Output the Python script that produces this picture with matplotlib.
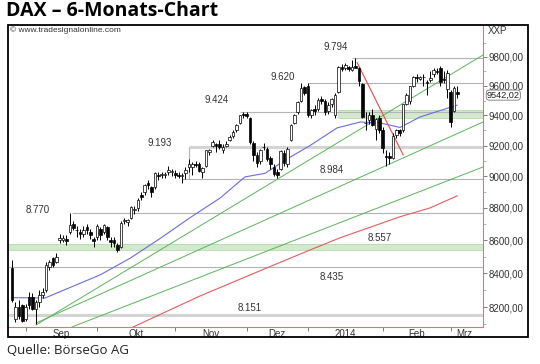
import matplotlib
matplotlib.use("Agg")
import matplotlib.pyplot as plt
from matplotlib.patches import Rectangle
from matplotlib.ticker import FixedLocator, NullFormatter
from matplotlib.transforms import blended_transform_factory

# DAX daily candles, 27.08.2013 - 05.03.2014 (index = trading day)
opens = [8430, 8130, 8200, 8210, 8130, 8260, 8260, 8190, 8230, 8270,
         8300, 8440, 8490, 8470, 8600, 8600, 8610, 8650, 8700, 8660,
         8650, 8640, 8680, 8650, 8610, 8620, 8670, 8650, 8680, 8600,
         8600, 8570, 8560, 8720, 8710, 8740, 8790, 8800, 8880, 8900,
         8960, 8930, 8930, 9010, 9010, 9010, 9030, 9030, 9020, 9010,
         9000, 9020, 9060, 9060, 9080, 9080, 9030, 9070, 9160, 9200,
         9210, 9210, 9170, 9200, 9240, 9260, 9300, 9350, 9410, 9410,
         9380, 9220, 9140, 9100, 9190, 9180, 9120, 9060, 9030, 9050,
         9150, 9080, 9240, 9350, 9420, 9500, 9590, 9598, 9400, 9440,
         9440, 9510, 9500, 9430, 9480, 9400, 9560, 9730, 9720, 9730,
         9710, 9740, 9720, 9610, 9350, 9370, 9400, 9310, 9380, 9300,
         9130, 9130, 9120, 9270, 9300, 9300, 9480, 9500, 9600, 9660,
         9650, 9660, 9630, 9640, 9680, 9700, 9720, 9650, 9580, 9560,
         9430, 9560]
highs = [8480, 8230, 8240, 8215, 8220, 8290, 8280, 8240, 8300, 8310,
         8470, 8480, 8500, 8520, 8640, 8630, 8630, 8770, 8720, 8690,
         8670, 8690, 8700, 8670, 8620, 8700, 8680, 8700, 8690, 8620,
         8620, 8580, 8720, 8740, 8730, 8810, 8810, 8860, 8900, 8950,
         8980, 8940, 9030, 9030, 9030, 9030, 9070, 9050, 9040, 9030,
         9020, 9060, 9110, 9090, 9100, 9090, 9060, 9170, 9180, 9240,
         9220, 9240, 9210, 9230, 9270, 9300, 9340, 9400, 9420, 9424,
         9390, 9230, 9160, 9180, 9220, 9190, 9130, 9080, 9050, 9170,
         9170, 9190, 9340, 9410, 9500, 9620, 9600, 9620, 9440, 9470,
         9520, 9530, 9510, 9490, 9520, 9550, 9740, 9750, 9760, 9740,
         9780, 9794, 9730, 9620, 9420, 9420, 9440, 9380, 9400, 9320,
         9170, 9160, 9280, 9310, 9310, 9480, 9550, 9600, 9670, 9680,
         9670, 9680, 9640, 9700, 9720, 9720, 9740, 9700, 9710, 9570,
         9600, 9600]
lows = [8230, 8110, 8130, 8110, 8120, 8190, 8180, 8100, 8200, 8250,
        8290, 8420, 8440, 8460, 8580, 8590, 8570, 8640, 8660, 8620,
        8610, 8620, 8640, 8610, 8560, 8600, 8600, 8640, 8600, 8560,
        8560, 8530, 8550, 8700, 8690, 8730, 8760, 8780, 8850, 8880,
        8920, 8870, 8920, 8980, 8990, 8990, 9010, 9000, 8990, 8990,
        8960, 8984, 9030, 9010, 9060, 9030, 8990, 9060, 9140, 9190,
        9160, 9180, 9150, 9190, 9230, 9250, 9290, 9340, 9380, 9380,
        9210, 9100, 9060, 9080, 9170, 9100, 9050, 9000, 8990, 9040,
        9070, 9060, 9230, 9340, 9410, 9490, 9540, 9390, 9380, 9400,
        9430, 9480, 9400, 9410, 9460, 9380, 9550, 9700, 9710, 9700,
        9700, 9720, 9600, 9380, 9300, 9340, 9330, 9240, 9280, 9150,
        9070, 9080, 9110, 9250, 9260, 9290, 9470, 9480, 9590, 9630,
        9640, 9600, 9540, 9630, 9660, 9680, 9600, 9620, 9520, 9320,
        9420, 9520]
closes = [8242, 8200, 8150, 8120, 8200, 8210, 8190, 8230, 8270, 8290,
          8447, 8469, 8450, 8500, 8612, 8613, 8597, 8694, 8675, 8665,
          8640, 8665, 8665, 8635, 8594, 8689, 8629, 8694, 8622, 8591,
          8580, 8540, 8705, 8725, 8724, 8806, 8790, 8850, 8870, 8947,
          8947, 8900, 9019, 9000, 9016, 9015, 9044, 9033, 9010, 9004,
          9008, 9040, 9078, 9078, 9076, 9037, 9054, 9168, 9168, 9225,
          9199, 9193, 9193, 9213, 9255, 9292, 9336, 9400, 9405, 9395,
          9225, 9140, 9085, 9172, 9191, 9114, 9077, 9017, 9006, 9163,
          9085, 9181, 9336, 9400, 9488, 9589, 9552, 9400, 9435, 9428,
          9506, 9497, 9421, 9473, 9510, 9540, 9733, 9718, 9742, 9715,
          9730, 9720, 9631, 9392, 9349, 9406, 9336, 9374, 9306, 9186,
          9128, 9116, 9265, 9301, 9285, 9479, 9540, 9596, 9663, 9657,
          9660, 9659, 9618, 9656, 9708, 9699, 9630, 9639, 9692, 9358,
          9589, 9542]

# moving averages (trading-day index, value)
blue_idx = [0, 9.7, 25.9, 34.7, 43.5, 52.4, 61.2, 68.5, 74.4, 80.9, 87.6, 95.6, 102.4, 108.2, 114.1, 120, 130.9]
blue_val = [8255, 8253, 8390, 8490, 8610, 8740, 8863, 8997, 9020, 9113, 9200, 9317, 9356, 9350, 9320, 9390, 9469]
red_idx = [34.1, 35.6, 55.3, 75.9, 87.6, 96.5, 114.1, 122.9, 130.9]
red_val = [8060, 8084, 8265, 8440, 8540, 8615, 8745, 8800, 8876]

# trend lines (start idx, start value, end idx, end value)
green_lines = [(7.06, 8096, 138.5, 9814), (7.06, 8107, 138.5, 9356), (17.6, 8084, 138.5, 9061)]
red_trend = (101.5, 9760, 115, 9140)

# marked levels: value, first index of the line
levels = [9794, 9620, 9424, 9193, 8984, 8770, 8435, 8151]
level_start = [100, 87, 67, 52, 50, 17.6, -2, -2]
level_text = ["9.794", "9.620", "9.424", "9.193", "8.984", "8.770", "8.435", "8.151"]
zones = [(8540, 8575, -2), (9385, 9435, 96)]
zone_text = "8.557"

month_starts = [4, 25, 48, 69, 87, 109, 129]
month_labels = ["Sep", "Okt", "Nov", "Dez", "2014", "Feb", "Mrz"]
y_ticks = [8200, 8400, 8600, 8800, 9000, 9200, 9400, 9600, 9800]
last_close = 9542.02

W, H = 540, 364
fig = plt.figure(figsize=(5.4, 3.64), dpi=100)
ax = fig.add_axes([8 / W, 1 - 327 / H, 475 / W, 302 / H])
ax.set_yscale("log")
ax.set_ylim(8084, 10026)
ax.set_xlim(-1.2, 138.5)

def px(x, y):
    return x / W, 1 - y / H

for (lo, hi, start) in zones:
    ax.fill_between([start, 138.5], lo, hi, color="#d3e9cd", lw=0, zorder=1)
    ax.hlines([lo, hi], start, 138.5, color="#b5dbab", lw=0.6, zorder=1)

thick = {9193, 8151}
for lv, st in zip(levels, level_start):
    if lv in thick:
        ax.hlines(lv, st, 138.5, color="#d4d4d4", lw=2.2, zorder=1)
    else:
        ax.hlines(lv, st, 138.5, color="#b4b4b4", lw=0.8, zorder=1)
ax.vlines(52, 8984, 9193, color="#b4b4b4", lw=0.8, zorder=1)

for (x0, y0, x1, y1) in green_lines:
    ax.plot([x0, x1], [y0, y1], color="#5cb35c", lw=0.7, zorder=2)
ax.plot(blue_idx, blue_val, color="#6b6be0", lw=0.8, zorder=2)
ax.plot(red_idx, red_val, color="#e35d5d", lw=0.8, zorder=2)
ax.plot([red_trend[0], red_trend[2]], [red_trend[1], red_trend[3]], color="#e35d5d", lw=0.9, zorder=2)

xs = list(range(len(closes)))
ax.vlines(xs, lows, highs, color="black", lw=0.7, zorder=3)
bottoms = [min(o, c) for o, c in zip(opens, closes)]
heights = [max(abs(c - o), 3) for o, c in zip(opens, closes)]
colors = ["white" if c >= o else "black" for o, c in zip(opens, closes)]
ax.bar(xs, heights, bottom=bottoms, width=0.72, color=colors, edgecolor="black", lw=0.5, zorder=4)

# axes styling
for s in ["left", "top"]:
    ax.spines[s].set_visible(False)
for s in ["right", "bottom"]:
    ax.spines[s].set_color("#e57373")
    ax.spines[s].set_linewidth(0.8)

ax.yaxis.tick_right()
ax.yaxis.set_major_locator(FixedLocator(y_ticks))
ax.yaxis.set_minor_locator(FixedLocator([v + 100 for v in y_ticks] + [8100]))
ax.yaxis.set_minor_formatter(NullFormatter())
ax.set_yticklabels([f"{v},00" for v in y_ticks])
ax.tick_params(axis="y", which="major", direction="out", length=3, width=0.6, color="#666",
               labelsize=7, labelcolor="#333", pad=1)
ax.tick_params(axis="y", which="minor", direction="out", length=2, width=0.5, color="#999")

ax.set_xticks(month_starts)
ax.set_xticklabels([])
centers = [(a + b) / 2 for a, b in zip(month_starts[:-1], month_starts[1:])] + [month_starts[-1] + 4]
ax.set_xticks(centers, minor=True)
ax.set_xticklabels(month_labels, minor=True)
ax.tick_params(axis="x", which="major", direction="out", length=3, width=0.6, color="#666")
ax.tick_params(axis="x", which="minor", length=0, labelsize=7, labelcolor="#333", pad=1.5)
for lab in ax.get_xticklabels(minor=True) + ax.get_yticklabels():
    lab.set_family("Liberation Sans")

# level labels
label_pos = [(336, 47), (283, 77), (217, 100), (160, 143), (332, 170), (38, 210), (332, 277), (250, 308)]
for t, (x, y) in zip(level_text, label_pos):
    fig.text(*px(x, y), t, ha="center", va="center", fontsize=7, color="#333", family="Liberation Sans")
fig.text(*px(380, 238), zone_text, ha="center", va="center", fontsize=7, color="#333", family="Liberation Sans")

tr = blended_transform_factory(ax.transAxes, ax.transData)
ax.text(1.008, last_close * 0.9995, f"{last_close:.2f}".replace(".", ","), transform=tr, ha="left",
        va="center", fontsize=6.6, color="#222", family="Liberation Sans",
        bbox=dict(boxstyle="round,pad=0.06,rounding_size=0.35", fc="white", ec="#777", lw=0.6))

fig.text(*px(488, 31), "XXP", ha="left", va="center", fontsize=7, color="#333", family="Liberation Sans")
fig.text(*px(10, 30), "\u00a9 www.tradesignalonline.com", ha="left", va="center", fontsize=6,
         color="#333", family="Liberation Sans")

# outer frame
fig.add_artist(Rectangle(px(8, 337), 520 / W, 312 / H, transform=fig.transFigure,
                         fill=False, ec="black", lw=1.3))

fig.text(*px(6, 11.5), "DAX \u2013 6-Monats-Chart", ha="left", va="center", fontsize=14,
         fontweight="bold", family="Open Sans")
fig.text(*px(7, 350), "Quelle: B\u00f6rseGo AG", ha="left", va="center", fontsize=9.5,
         family="Open Sans", color="#222")

fig.savefig("out.png", dpi=100)
